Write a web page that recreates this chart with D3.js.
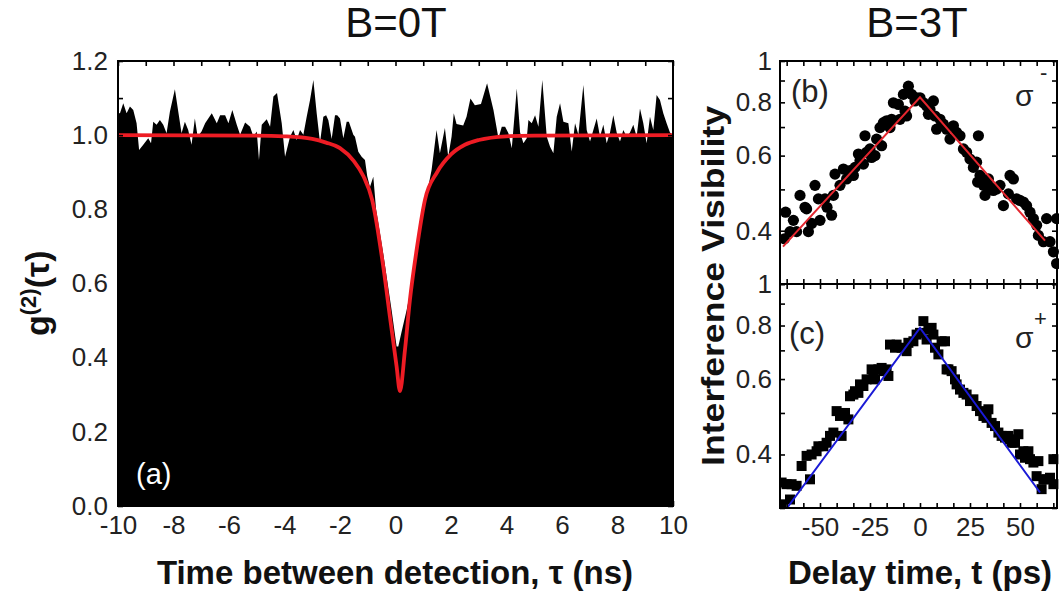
<!DOCTYPE html>
<html><head><meta charset="utf-8">
<script src="https://cdn.jsdelivr.net/npm/d3@7"></script>
<style>
body{margin:0;background:#fff}
svg{display:block}
text{font-family:"Liberation Sans",Arial,Helvetica,sans-serif}
</style>
</head><body>
<svg id="chart" width="1059" height="596"></svg>
<script>
// ---------------- DATA ----------------
// panel (a): g2(tau) histogram, [tau (ns), g2]
const g2Data = [
 [-10,1.06],[-9.93,1.059],[-9.81,1.086],[-9.69,1.059],[-9.57,1.077],[-9.45,1.068],[-9.33,1.032],[-9.24,0.960],
 [-9.09,0.974],[-8.91,0.992],[-8.81,0.978],[-8.73,1.036],[-8.61,1.028],[-8.49,1.041],[-8.37,1.028],[-8.25,1.005],
 [-8.13,1.063],[-7.95,1.124],[-7.80,1.050],[-7.71,1.005],[-7.59,1.036],[-7.47,1.014],[-7.35,0.974],[-7.23,1.045],
 [-7.13,0.996],[-6.99,1.010],[-6.86,1.032],[-6.62,1.059],[-6.44,1.032],[-6.32,1.054],[-6.14,1.054],[-6.02,1.032],
 [-5.88,1.068],[-5.72,1.028],[-5.60,1.001],[-5.42,1.034],[-5.24,1.023],[-5.12,0.996],[-5.00,1.010],[-4.92,0.933],
 [-4.82,1.028],[-4.64,1.043],[-4.52,1.023],[-4.40,1.104],[-4.27,1.114],[-4.10,1.032],[-3.98,0.942],[-3.80,0.996],
 [-3.68,1.014],[-3.56,0.987],[-3.44,1.014],[-3.32,1.001],[-3.20,1.050],[-3.08,1.095],[-2.96,1.149],[-2.84,1.059],
 [-2.72,0.980],[-2.60,1.050],[-2.50,1.054],[-2.42,1.040],[-2.30,0.990],[-2.18,1.054],[-2.10,1.054],[-2.00,1.045],
 [-1.88,0.992],[-1.76,1.036],[-1.68,1.036],[-1.52,1.001],[-1.46,0.996],[-1.34,0.955],[-1.22,0.942],[-1.10,0.933],
 [-1.02,0.890],[-0.92,0.860],[-0.80,0.888],[-0.70,0.800],[-0.44,0.680],[-0.14,0.528],[0.04,0.430],[0.10,0.430],
 [0.22,0.470],[0.40,0.528],[0.64,0.618],[0.80,0.720],[0.94,0.798],[1.06,0.825],[1.18,0.860],[1.30,0.906],
 [1.42,0.978],[1.48,1.014],[1.60,0.951],[1.78,1.019],[1.90,0.942],[2.02,0.996],[2.10,1.059],[2.20,1.030],
 [2.44,1.026],[2.56,1.050],[2.70,1.099],[2.86,1.081],[3.08,1.084],[3.30,1.140],[3.53,1.068],[3.71,0.992],
 [3.83,1.023],[3.95,1.023],[4.07,1.005],[4.19,0.965],[4.37,1.126],[4.49,1.007],[4.61,0.978],[4.73,0.992],
 [4.79,1.041],[4.91,1.032],[5.03,1.054],[5.15,1.023],[5.29,1.149],[5.45,0.996],[5.57,0.969],[5.69,0.951],
 [5.81,1.050],[5.93,1.086],[6.05,1.036],[6.23,1.032],[6.35,0.956],[6.47,1.032],[6.59,1.001],[6.77,1.135],
 [6.89,1.014],[7.01,0.983],[7.13,1.014],[7.25,1.045],[7.37,0.996],[7.49,1.028],[7.61,0.978],[7.73,1.007],
 [7.85,1.054],[7.97,1.007],[8.09,0.983],[8.21,1.014],[8.33,0.996],[8.45,1.007],[8.57,1.028],[8.69,0.996],
 [8.81,1.072],[8.93,1.032],[9.05,0.978],[9.17,1.050],[9.29,1.014],[9.41,1.108],[9.53,1.095],[9.65,1.059],
 [9.77,1.032],[9.89,1.007],[10,1.0]
];
// panel (a): fit curve, [tau, g2]
const g2Fit = [
 [-10,1.0],[-5,0.999],[-4,0.997],[-3,0.99],[-2.5,0.98],[-2,0.965],[-1.5,0.93],[-1.16,0.89],[-0.84,0.825],
 [-0.44,0.645],[-0.2,0.51],[0.04,0.376],[0.16,0.31],[0.34,0.42],[0.52,0.556],[0.76,0.69],[1.06,0.825],
 [1.5,0.90],[2,0.948],[2.5,0.974],[3,0.987],[4,0.997],[5,0.999],[10,1.0]
];
// panel (b): sigma- visibility, [t (ps), V]
const visMinus = [
 [-67.2,0.442],[-67.8,0.383],[-65,0.398],[-61.7,0.398],[-63.3,0.423],[-60,0.484],[-57.5,0.454],[-56.7,0.450],
 [-55.8,0.398],[-54.2,0.416],[-52.5,0.511],[-50.8,0.475],[-50,0.423],[-47.5,0.475],[-46.5,0.454],[-44.2,0.435],
 [-43.3,0.484],[-42.5,0.543],[-40,0.511],[-38.3,0.558],[-36.7,0.529],[-35,0.553],[-33.3,0.539],[-32.5,0.563],
 [-30.8,0.605],[-30,0.584],[-28.3,0.573],[-27.5,0.668],[-26.7,0.611],[-25,0.622],[-24.2,0.594],[-22.5,0.600],
 [-21.7,0.656],[-20,0.698],[-19.2,0.633],[-18.3,0.717],[-16.7,0.724],[-15,0.698],[-14.2,0.730],[-13.3,0.798],
 [-10.8,0.791],[-10,0.730],[-8.3,0.835],[-7.5,0.763],[-6.7,0.743],[-5.8,0.873],[-4.2,0.835],[-2.5,0.806],
 [-1.7,0.820],[0,0.820],[1.7,0.798],[3.3,0.784],[4.2,0.750],[5,0.770],[6.7,0.806],[7.5,0.743],[8.3,0.692],
 [10,0.730],[11.7,0.711],[13.3,0.692],[15,0.656],[16.7,0.705],[18.3,0.680],[20,0.668],[21.7,0.622],[23.3,0.611],
 [25,0.589],[26.7,0.563],[28.3,0.579],[29.2,0.668],[28.8,0.520],[30,0.539],[31.7,0.511],[32.5,0.484],[34.2,0.529],
 [35,0.506],[36.7,0.497],[38.3,0.501],[40,0.511],[41.7,0.458],[44.2,0.488],[45,0.539],[46.7,0.529],[48.3,0.475],
 [50,0.471],[51.7,0.467],[53.3,0.458],[55,0.442],[56.7,0.427],[58.3,0.412],[59.2,0.390],[61.7,0.377],[63.3,0.427],
 [65,0.377],[66.7,0.357],[68.3,0.335],[68.3,0.427]
];
const fitMinus = [[-68.5,0.367],[0,0.822],[62.5,0.379]];
// panel (c): sigma+ visibility, [t (ps), V]
const visPlus = [
 [-69.2,0.344],[-66.7,0.341],[-64.2,0.341],[-61.7,0.338],[-69.2,0.306],[-65,0.314],[-59.2,0.376],[-56.7,0.397],
 [-54.2,0.400],[-55,0.350],[-51.7,0.407],[-50.8,0.418],[-48.3,0.418],[-46.7,0.426],[-45,0.442],[-43.3,0.450],
 [-41.7,0.505],[-40,0.492],[-39.2,0.442],[-37.5,0.500],[-35.8,0.483],[-35,0.547],[-33.3,0.552],[-32.5,0.562],
 [-30.8,0.557],[-30,0.583],[-28.3,0.578],[-26.7,0.599],[-24.2,0.632],[-23.3,0.621],[-22.5,0.599],[-20.8,0.632],
 [-19.2,0.637],[-18.3,0.626],[-16.7,0.632],[-15.8,0.610],[-15,0.722],[-12.5,0.710],[-11.7,0.722],[-9.2,0.710],
 [-6.7,0.697],[-5.8,0.729],[-3.3,0.735],[-1.7,0.762],[0,0.769],[1.7,0.819],[3.3,0.742],[4.2,0.783],[5.8,0.790],
 [6.7,0.762],[7.5,0.710],[9.2,0.685],[10.8,0.735],[12.5,0.735],[13.3,0.632],[14.2,0.632],[15.8,0.626],[17.5,0.599],
 [18.3,0.583],[20,0.567],[21.7,0.557],[23.3,0.552],[25,0.533],[26.7,0.538],[28.3,0.519],[30,0.505],[31.7,0.492],
 [33.3,0.487],[34.2,0.510],[35.8,0.474],[37.5,0.466],[39.2,0.450],[40.8,0.442],[42.5,0.438],[44.2,0.442],[45,0.434],
 [45.8,0.426],[47.5,0.426],[49.2,0.446],[50,0.400],[51.7,0.407],[52.5,0.393],[54.2,0.407],[55,0.390],[56.7,0.383],
 [58.3,0.356],[59.2,0.386],[60.8,0.332],[61.7,0.350],[63.3,0.350],[65,0.353],[66.7,0.341],[66.7,0.390]
];
const fitPlus = [[-66.5,0.30],[0,0.79],[60,0.326]];

// tick values
const xTicksA = [-10,-8,-6,-4,-2,0,2,4,6,8,10];
const xMinorA = d3.range(-10,10.01,1);
const yTicksA = [0,0.2,0.4,0.6,0.8,1.0,1.2];
const yMinorA = d3.range(0,1.201,0.1);
const xTicksR = [-50,-25,0,25,50];
const xMinorR = d3.range(-75,75.01,25/3);
const yTicksR = [0.4,0.6,0.8,1];
const yMinorR = [0.3,0.4,0.5,0.6,0.7,0.8,0.9,1];

// ---------------- LAYOUT ----------------
const svg = d3.select("#chart");
const A = {l:118, r:673, t:61, b:506};
const R = {l:780, r:1057, t:61, m:284, b:508};

const xA = d3.scaleLinear().domain([-10,10]).range([A.l,A.r]);
const yA = d3.scaleLinear().domain([0,1.2]).range([A.b,A.t]);
const xR = d3.scaleLinear().domain([-70,68.5]).range([R.l,R.r]);
const yB = d3.scaleLog().domain([0.3,1]).range([R.m,R.t]);
const yC = d3.scaleLog().domain([0.3,1]).range([R.b,R.m]);

const defs = svg.append("defs");
defs.append("clipPath").attr("id","clipA").append("rect")
  .attr("x",A.l).attr("y",A.t).attr("width",A.r-A.l).attr("height",A.b-A.t);
defs.append("clipPath").attr("id","clipB").append("rect")
  .attr("x",R.l).attr("y",R.t).attr("width",R.r-R.l+6).attr("height",R.m-R.t);
defs.append("clipPath").attr("id","clipC").append("rect")
  .attr("x",R.l).attr("y",R.m).attr("width",R.r-R.l+6).attr("height",R.b-R.m);

const TICKFONT = 26;
function styleAxis(g){
  g.select(".domain").remove();
  g.selectAll(".tick line").attr("stroke","#000").attr("stroke-width",1.6);
  g.selectAll(".tick text").attr("font-size",TICKFONT).attr("fill","#222")
   .attr("font-family",'"Liberation Sans",Arial,sans-serif');
}
const fmtPlain = d => String(d);

// ---------- panel (a) ----------
const gA = svg.append("g");
gA.append("path").datum(g2Data).attr("clip-path","url(#clipA)")
  .attr("fill","#000")
  .attr("d", d3.area().x(d=>xA(d[0])).y0(yA(0)).y1(d=>yA(d[1])));
gA.append("path").datum(g2Fit).attr("clip-path","url(#clipA)")
  .attr("fill","none").attr("stroke","#ee1c24").attr("stroke-width",3.8)
  .attr("d", d3.line().curve(d3.curveMonotoneX).x(d=>xA(d[0])).y(d=>yA(d[1])));

gA.append("g").attr("transform",`translate(0,${A.b})`)
  .call(d3.axisBottom(xA).tickValues(xTicksA).tickFormat(fmtPlain).tickSize(0).tickPadding(10)).call(styleAxis);
gA.append("g").attr("transform",`translate(0,${A.t})`)
  .call(d3.axisTop(xA).tickValues(xMinorA).tickFormat("").tickSize(-5)).call(styleAxis);
gA.append("g").attr("transform",`translate(0,${A.b})`)
  .call(d3.axisBottom(xA).tickValues(xMinorA).tickFormat("").tickSize(-5)).call(styleAxis);
gA.append("g").attr("transform",`translate(${A.l},0)`)
  .call(d3.axisLeft(yA).tickValues(yTicksA).tickFormat(d3.format(".1f")).tickSize(0).tickPadding(10)).call(styleAxis);
gA.append("g").attr("transform",`translate(${A.l},0)`)
  .call(d3.axisLeft(yA).tickValues(yMinorA).tickFormat("").tickSize(-5)).call(styleAxis);
gA.append("g").attr("transform",`translate(${A.r},0)`)
  .call(d3.axisRight(yA).tickValues(yMinorA).tickFormat("").tickSize(-5)).call(styleAxis);
gA.append("rect").attr("x",A.l).attr("y",A.t).attr("width",A.r-A.l).attr("height",A.b-A.t)
  .attr("fill","none").attr("stroke","#000").attr("stroke-width",2);

gA.append("text").attr("x",136).attr("y",484).attr("fill","#fff").attr("font-size",29).text("(a)");

// ---------- panels (b),(c) ----------
function panel(yS, top, bot, clipId, data, fit, color, marker){
  const g = svg.append("g");
  const line = d3.line().x(d=>xR(d[0])).y(d=>yS(d[1]));
  const pts = g.append("g").attr("clip-path",`url(#${clipId})`);
  if(marker==="circle"){
    pts.selectAll("circle").data(data).join("circle")
      .attr("cx",d=>xR(d[0])).attr("cy",d=>yS(d[1])).attr("r",5.6).attr("fill","#000");
  } else {
    const s = 10;
    pts.selectAll("rect").data(data).join("rect")
      .attr("x",d=>xR(d[0])-s/2).attr("y",d=>yS(d[1])-s/2).attr("width",s).attr("height",s).attr("fill","#000");
  }
  g.append("path").datum(fit).attr("clip-path",`url(#${clipId})`)
    .attr("fill","none").attr("stroke",color).attr("stroke-width",2).attr("d",line);

  g.append("g").attr("transform",`translate(0,${top})`)
    .call(d3.axisTop(xR).tickValues(xMinorR.filter(v=>v>-70&&v<68.5)).tickFormat("").tickSize(-5)).call(styleAxis);
  g.append("g").attr("transform",`translate(0,${bot})`)
    .call(d3.axisBottom(xR).tickValues(xMinorR.filter(v=>v>-70&&v<68.5)).tickFormat("").tickSize(-5)).call(styleAxis);
  g.append("g").attr("transform",`translate(${R.l},0)`)
    .call(d3.axisLeft(yS).tickValues(yMinorR).tickFormat("").tickSize(-5)).call(styleAxis);
  g.append("g").attr("transform",`translate(${R.r},0)`)
    .call(d3.axisRight(yS).tickValues(yMinorR).tickFormat("").tickSize(-5)).call(styleAxis);
  g.append("g").attr("transform",`translate(${R.l},0)`)
    .call(d3.axisLeft(yS).tickValues(yTicksR).tickFormat(fmtPlain).tickSize(0).tickPadding(8)).call(styleAxis);
  g.append("rect").attr("x",R.l).attr("y",top).attr("width",R.r-R.l).attr("height",bot-top)
    .attr("fill","none").attr("stroke","#000").attr("stroke-width",2);
  return g;
}
const gB = panel(yB, R.t, R.m, "clipB", visMinus, fitMinus, "#e3262e", "circle");
const gC = panel(yC, R.m, R.b, "clipC", visPlus, fitPlus, "#1a1ad6", "square");

svg.append("g").attr("transform",`translate(0,${R.b})`)
  .call(d3.axisBottom(xR).tickValues(xTicksR).tickFormat(fmtPlain).tickSize(0).tickPadding(10)).call(styleAxis);

gB.append("text").attr("x",791).attr("y",102).attr("font-size",31).attr("fill","#222").text("(b)");
gC.append("text").attr("x",789).attr("y",344).attr("font-size",31).attr("fill","#222").text("(c)");
gB.append("text").attr("x",1015).attr("y",106).attr("font-size",30).attr("fill","#222").text("σ");
gB.append("text").attr("x",1040).attr("y",80).attr("font-size",22).attr("fill","#222").text("-");
gC.append("text").attr("x",1015).attr("y",348).attr("font-size",30).attr("fill","#222").text("σ");
gC.append("text").attr("x",1034).attr("y",326).attr("font-size",22).attr("fill","#222").text("+");

// ---------- titles ----------
svg.append("text").attr("x",396).attr("y",37).attr("text-anchor","middle")
  .attr("font-family",'"Liberation Sans Narrow","Arial Narrow","Liberation Sans",sans-serif')
  .attr("font-size",42).attr("fill","#111").text("B=0T");
svg.append("text").attr("x",917).attr("y",37).attr("text-anchor","middle")
  .attr("font-family",'"Liberation Sans Narrow","Arial Narrow","Liberation Sans",sans-serif')
  .attr("font-size",42).attr("fill","#111").text("B=3T");

svg.append("text").attr("x",395).attr("y",584).attr("text-anchor","middle")
  .attr("font-size",33).attr("font-weight","bold").attr("fill","#111")
  .text("Time between detection, τ (ns)");
svg.append("text").attr("x",920).attr("y",584).attr("text-anchor","middle")
  .attr("font-size",33).attr("font-weight","bold").attr("fill","#111")
  .text("Delay time, t (ps)");
svg.append("text").attr("transform","translate(724,286) rotate(-90)").attr("text-anchor","middle")
  .attr("font-size",32).attr("font-weight","bold").attr("fill","#111")
  .attr("textLength",360).attr("lengthAdjust","spacingAndGlyphs")
  .text("Interference Visibility");
const gt = svg.append("text").attr("transform","translate(49,336) rotate(-90)")
  .attr("font-size",34).attr("font-weight","bold").attr("fill","#111");
gt.append("tspan").text("g");
gt.append("tspan").attr("font-size",22).attr("dy",-13).text("(2)");
gt.append("tspan").attr("dy",13).text("(τ)");
</script>
</body></html>
